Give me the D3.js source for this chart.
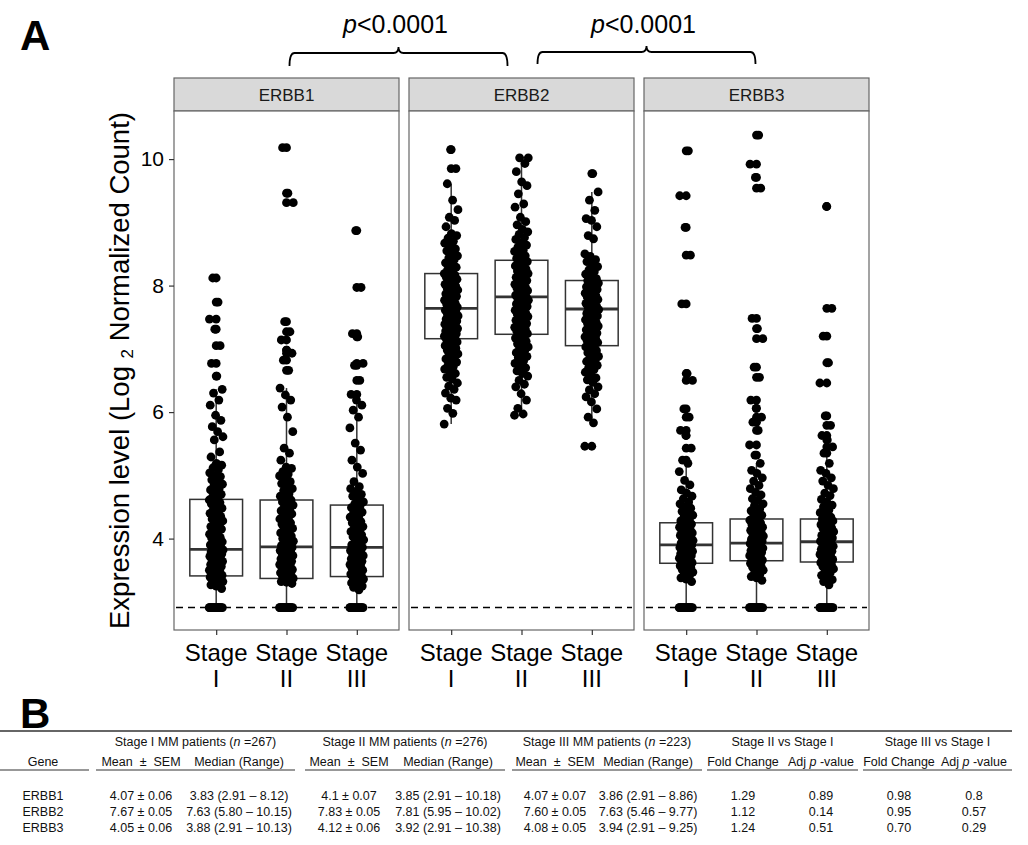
<!DOCTYPE html>
<html>
<head>
<meta charset="utf-8">
<script src="https://cdn.jsdelivr.net/npm/d3@7"></script>
<style>
  body { margin: 0; background: #fff; }
  text { font-family: "Liberation Sans", Arial, Helvetica, sans-serif; }
</style>
</head>
<body>
<svg id="fig" width="1028" height="845"></svg>
<script>
// ---- panel A data ----
const genes = ["ERBB1", "ERBB2", "ERBB3"];
const stages = ["Stage I", "Stage II", "Stage III"];
const yTicks = [4, 6, 8, 10];
const detectionFloor = 2.91;
const comparisonLabel = "<0.0001";

const erbb1StageI = [2.91,2.91,2.91,2.91,2.91,2.91,2.91,2.91,2.91,2.91,2.91,2.91,2.91,2.91,2.91,2.91,
  3.21,3.25,3.27,3.28,3.31,3.32,3.33,3.35,3.36,3.38,3.39,3.40,3.41,
  3.42,3.43,3.46,3.47,3.49,3.50,3.53,3.55,3.56,3.57,3.59,3.61,3.62,3.64,3.66,3.67,3.68,3.71,3.72,3.73,3.75,3.76,3.77,3.79,3.80,3.81,3.82,3.83,3.84,3.86,
  3.87,3.90,3.92,3.94,3.95,3.98,4.01,4.02,4.05,4.07,4.10,4.12,4.15,4.17,4.19,4.22,4.24,4.28,4.30,4.31,4.35,4.38,4.40,4.44,4.46,4.48,4.52,4.55,4.57,4.60,4.61,4.63,
  4.66,4.70,4.72,4.77,4.79,4.83,4.86,4.90,4.93,4.98,5.00,5.04,5.09,5.12,5.16,5.19,
  5.29,5.37,5.56,5.61,5.69,5.77,5.87,5.95,6.11,6.19,6.30,6.36,6.57,6.77,7.05,7.31,7.47,7.74,8.12];
const erbb1StageII = [2.91,2.91,2.91,2.91,2.91,2.91,2.91,2.91,2.91,2.91,2.91,2.91,2.91,2.91,2.91,2.91,
  3.29,3.31,3.32,3.34,3.35,3.37,
  3.39,3.40,3.42,3.44,3.46,3.47,3.49,3.51,3.52,3.55,3.56,3.58,3.59,3.62,3.63,3.64,3.67,3.68,3.69,3.72,3.73,3.75,3.76,3.78,3.80,3.81,3.83,3.85,3.86,3.87,
  3.89,3.92,3.94,3.96,3.99,4.00,4.04,4.06,4.09,4.12,4.14,4.16,4.19,4.23,4.25,4.27,4.31,4.33,4.36,4.39,4.41,4.44,4.48,4.50,4.53,4.55,4.58,4.61,
  4.64,4.67,4.71,4.76,4.79,4.82,4.87,4.90,4.94,4.99,5.02,5.06,5.11,
  5.13,5.24,5.35,5.43,5.69,5.92,6.08,6.19,6.27,6.38,6.66,6.82,6.93,6.98,7.14,7.27,7.43,9.31,9.46,10.18];
const erbb1StageIII = [2.91,2.91,2.91,2.91,2.91,2.91,2.91,2.91,2.91,2.91,2.91,2.91,2.91,2.91,
  3.19,3.23,3.25,3.27,3.30,3.31,3.34,3.36,3.37,3.40,
  3.41,3.43,3.44,3.46,3.48,3.50,3.51,3.53,3.56,3.57,3.59,3.60,3.63,3.64,3.66,3.68,3.69,3.71,3.73,3.74,3.76,3.77,3.79,3.81,3.82,3.84,3.86,
  3.88,3.90,3.93,3.95,3.98,4.00,4.03,4.06,4.08,4.11,4.13,4.16,4.19,4.21,4.25,4.27,4.30,4.34,4.36,4.40,4.42,4.46,4.49,4.52,
  4.55,4.58,4.62,4.67,4.70,4.74,4.79,4.82,
  4.90,5.03,5.13,5.24,5.40,5.51,5.75,5.92,6.03,6.11,6.19,6.28,6.50,6.74,6.77,7.19,7.24,7.97,8.87];

const erbb2StageI = [5.81,5.98,6.06,6.19,6.22,6.30,6.36,6.41,6.46,6.52,6.55,6.61,6.64,6.68,
  6.72,6.74,6.79,6.82,6.84,6.88,6.91,6.92,6.96,6.98,7.01,7.02,7.05,7.08,7.09,7.11,7.13,7.15,
  7.17,7.18,7.20,7.22,7.23,7.24,7.26,7.28,7.29,7.31,7.32,7.33,7.35,7.37,7.38,7.39,7.41,7.43,7.44,7.45,7.47,7.49,7.50,7.52,7.53,7.55,7.57,7.59,7.61,7.63,
  7.65,7.66,7.69,7.71,7.72,7.75,7.77,7.78,7.81,7.83,7.84,7.87,7.89,7.90,7.93,7.95,7.96,7.99,8.01,8.02,8.05,8.07,8.10,8.11,8.13,8.16,8.17,8.19,
  8.22,8.25,8.29,8.34,8.36,8.41,8.44,8.47,8.52,8.55,8.58,8.63,8.67,8.70,8.75,8.79,
  8.82,8.93,9.03,9.08,9.20,9.35,9.61,9.85,10.15];
const erbb2StageII = [5.95,5.97,6.06,6.19,6.29,6.40,6.44,6.50,6.57,6.61,6.65,6.70,
  6.74,6.77,6.81,6.86,6.88,6.90,6.94,6.98,7.00,7.03,7.05,7.08,7.12,7.14,7.17,7.19,7.22,
  7.24,7.27,7.28,7.31,7.33,7.34,7.37,7.39,7.40,7.43,7.45,7.46,7.49,7.51,7.52,7.55,7.56,7.59,7.61,7.62,7.65,7.67,7.68,7.71,7.73,7.74,7.77,7.79,7.80,7.82,
  7.84,7.85,7.88,7.89,7.92,7.93,7.96,7.97,8.00,8.02,8.04,8.06,8.08,8.10,8.13,8.14,8.17,8.19,8.21,8.23,8.26,8.28,8.31,8.33,8.35,8.38,8.40,
  8.43,8.47,8.50,8.54,8.56,8.61,8.64,8.68,8.73,8.76,8.81,8.85,8.89,8.96,9.01,9.08,
  9.24,9.29,9.45,9.58,9.64,9.80,9.93,10.02,10.02];
const erbb2StageIII = [5.46,5.83,5.92,6.05,6.16,6.24,6.29,6.35,6.40,6.47,6.51,6.54,6.60,6.63,6.67,
  6.70,6.74,6.76,6.80,6.82,6.86,6.88,6.92,6.94,6.97,7.01,7.03,
  7.06,7.07,7.10,7.12,7.13,7.16,7.18,7.19,7.22,7.24,7.25,7.28,7.30,7.31,7.34,7.36,7.37,7.40,7.42,7.43,7.46,7.48,7.50,7.52,7.54,7.56,7.58,7.60,7.62,
  7.64,7.66,7.67,7.70,7.72,7.73,7.76,7.78,7.79,7.82,7.84,7.85,7.88,7.90,7.91,7.94,7.96,7.98,8.00,8.02,8.04,8.06,8.08,
  8.11,8.15,8.18,8.22,8.25,8.30,8.33,8.38,8.41,8.46,8.50,
  8.74,8.79,8.93,9.03,9.06,9.19,9.35,9.48,9.77];

const erbb3StageI = [2.91,2.91,2.91,2.91,2.91,2.91,2.91,2.91,2.91,2.91,2.91,2.91,2.91,2.91,2.91,2.91,
  3.32,3.36,3.38,3.42,3.44,3.47,3.49,3.51,3.54,3.55,3.57,3.59,3.60,
  3.62,3.63,3.65,3.66,3.67,3.69,3.70,3.72,3.73,3.74,3.76,3.77,3.78,3.80,3.81,3.82,3.84,3.85,3.86,3.87,3.89,3.90,
  3.91,3.93,3.94,3.96,3.97,3.99,4.00,4.02,4.03,4.05,4.06,4.08,4.09,4.11,4.13,4.14,4.16,4.18,4.20,4.21,4.23,4.25,
  4.28,4.31,4.35,4.37,4.41,4.43,4.48,4.50,4.55,4.58,4.63,4.67,4.72,
  4.77,4.85,4.92,5.06,5.19,5.24,5.43,5.63,5.71,5.92,6.05,6.50,6.61,7.71,8.48,8.92,9.42,10.13];
const erbb3StageII = [2.91,2.91,2.91,2.91,2.91,2.91,2.91,2.91,2.91,2.91,2.91,2.91,2.91,2.91,2.91,2.91,
  3.34,3.38,3.40,3.44,3.46,3.50,3.51,3.55,3.56,3.58,3.61,3.62,3.64,
  3.66,3.67,3.69,3.71,3.72,3.73,3.75,3.77,3.78,3.79,3.81,3.82,3.84,3.85,3.87,3.88,3.89,3.91,3.92,3.93,
  3.94,3.96,3.98,3.99,4.01,4.03,4.04,4.06,4.08,4.09,4.11,4.13,4.15,4.16,4.18,4.21,4.22,4.25,4.26,4.29,4.31,
  4.33,4.37,4.40,4.44,4.47,4.52,4.55,4.60,4.63,4.69,4.73,4.79,4.84,4.91,4.96,5.03,
  5.08,5.19,5.32,5.48,5.71,5.84,5.92,6.06,6.19,6.55,6.71,7.16,7.32,7.48,9.54,9.71,9.92,10.38];
const erbb3StageIII = [2.91,2.91,2.91,2.91,2.91,2.91,2.91,2.91,2.91,2.91,2.91,2.91,2.91,2.91,
  3.27,3.32,3.35,3.40,3.42,3.46,3.48,3.52,3.53,3.56,3.59,3.60,3.62,
  3.64,3.65,3.67,3.69,3.70,3.72,3.73,3.75,3.77,3.78,3.80,3.81,3.83,3.85,3.86,3.88,3.90,3.91,3.93,3.95,
  3.96,3.98,4.00,4.01,4.04,4.05,4.07,4.10,4.11,4.13,4.16,4.17,4.19,4.22,4.23,4.26,4.28,4.29,4.31,
  4.34,4.38,4.41,4.45,4.50,4.53,4.58,4.62,4.68,4.72,4.79,4.84,4.91,4.96,5.03,
  5.08,5.19,5.35,5.45,5.56,5.63,5.79,5.94,6.46,6.78,7.20,7.64,9.25];

// box stats: [lower whisker, Q1, median, Q3, upper whisker]
const erbb1Boxes = [[2.91, 3.41, 3.83, 4.62, 6.36], [2.91, 3.37, 3.87, 4.61, 6.38], [2.91, 3.40, 3.86, 4.53, 6.19]];
const erbb2Boxes = [[5.81, 7.16, 7.64, 8.19, 9.61], [5.95, 7.23, 7.82, 8.40, 10.02], [5.83, 7.05, 7.63, 8.08, 9.48]];
const erbb3Boxes = [[2.91, 3.61, 3.90, 4.25, 5.19], [2.91, 3.65, 3.93, 4.31, 5.19], [2.91, 3.63, 3.95, 4.31, 5.30]];

// ---- panel B data ----
const tableGenes = ["ERBB1", "ERBB2", "ERBB3"];
const patientCounts = [267, 276, 223];
const meanSemI = ["4.07 ± 0.06", "7.67 ± 0.05", "4.05 ± 0.06"];
const medianRangeI = ["3.83 (2.91 – 8.12)", "7.63 (5.80 – 10.15)", "3.88 (2.91 – 10.13)"];
const meanSemII = ["4.1 ± 0.07", "7.83 ± 0.05", "4.12 ± 0.06"];
const medianRangeII = ["3.85 (2.91 – 10.18)", "7.81 (5.95 – 10.02)", "3.92 (2.91 – 10.38)"];
const meanSemIII = ["4.07 ± 0.07", "7.60 ± 0.05", "4.08 ± 0.05"];
const medianRangeIII = ["3.86 (2.91 – 8.86)", "7.63 (5.46 – 9.77)", "3.94 (2.91 – 9.25)"];
const foldIIvsI = ["1.29", "1.12", "1.24"];
const adjPIIvsI = ["0.89", "0.14", "0.51"];
const foldIIIvsI = ["0.98", "0.95", "0.70"];
const adjPIIIvsI = ["0.8", "0.57", "0.29"];

const geneValues = [
  [erbb1StageI, erbb1StageII, erbb1StageIII],
  [erbb2StageI, erbb2StageII, erbb2StageIII],
  [erbb3StageI, erbb3StageII, erbb3StageIII]
];
const geneBoxes = [erbb1Boxes, erbb2Boxes, erbb3Boxes];

const svg = d3.select("#fig");
const frame = "#666";

const y = d3.scaleLinear().domain([2.555, 10.76]).range([630, 111]);
const panelX = d3.scaleBand().domain(genes).range([174, 869]).paddingInner(10 / 235);
const stageX = d3.scalePoint().domain(stages).range([0, panelX.bandwidth()]).padding(0.6);
const w = panelX.bandwidth();
const boxW = stageX.step() * 0.75;
const jitter = 7;
const dotR = 4.4;

// panel letters
svg.append("text").attr("x", 20).attr("y", 50).attr("font-size", 42).attr("font-weight", "bold").text("A");
svg.append("text").attr("x", 20).attr("y", 728).attr("font-size", 42).attr("font-weight", "bold").text("B");

genes.forEach((gene, gi) => {
  const g = svg.append("g").attr("transform", `translate(${panelX(gene)},0)`);

  // strip
  g.append("rect").attr("x", 0).attr("y", 78).attr("width", w).attr("height", 33)
    .attr("fill", "#d9d9d9").attr("stroke", frame).attr("stroke-width", 1.2);
  g.append("text").attr("x", w / 2).attr("y", 101).attr("text-anchor", "middle")
    .attr("font-size", 17).attr("fill", "#1a1a1a").text(gene);

  g.append("rect").attr("x", 0).attr("y", 111).attr("width", w).attr("height", 630 - 111)
    .attr("fill", "#fff").attr("stroke", frame).attr("stroke-width", 1.2);

  g.append("line").attr("x1", 2).attr("x2", w - 2)
    .attr("y1", y(detectionFloor)).attr("y2", y(detectionFloor))
    .attr("stroke", "#000").attr("stroke-width", 1.6).attr("stroke-dasharray", "7,5");

  stages.forEach((st, si) => {
    const cx = stageX(st);
    const [lo, q1, med, q3, hi] = geneBoxes[gi][si];
    const bg = g.append("g");
    bg.append("line").attr("x1", cx).attr("x2", cx).attr("y1", y(lo)).attr("y2", y(q1))
      .attr("stroke", "#333").attr("stroke-width", 1.5);
    bg.append("line").attr("x1", cx).attr("x2", cx).attr("y1", y(q3)).attr("y2", y(hi))
      .attr("stroke", "#333").attr("stroke-width", 1.5);
    bg.append("rect").attr("x", cx - boxW / 2).attr("width", boxW)
      .attr("y", y(q3)).attr("height", y(q1) - y(q3))
      .attr("fill", "#fff").attr("stroke", "#333").attr("stroke-width", 1.5);
    bg.append("line").attr("x1", cx - boxW / 2).attr("x2", cx + boxW / 2)
      .attr("y1", y(med)).attr("y2", y(med)).attr("stroke", "#333").attr("stroke-width", 2.8);

    const vals = geneValues[gi][si].slice().sort(d3.ascending);
    // boxplot outliers at the box centre
    bg.selectAll("circle.out").data(vals.filter(v => v < lo || v > hi)).join("circle")
      .attr("class", "out").attr("cx", cx).attr("cy", d => y(d)).attr("r", dotR).attr("fill", "#000");
    // jittered points (deterministic spread)
    bg.selectAll("circle.pt").data(vals).join("circle")
      .attr("class", "pt")
      .attr("cx", (d, k) => cx + (((k * 0.6180339887) % 1) - 0.5) * 2 * jitter)
      .attr("cy", d => y(d)).attr("r", dotR)
      .attr("fill", "#000");
  });

  const ax = g.append("g").attr("transform", "translate(0,630)")
    .call(d3.axisBottom(stageX).tickSize(5).tickFormat(""));
  ax.select(".domain").remove();
  ax.selectAll(".tick line").attr("stroke", "#333").attr("stroke-width", 1.2);
  stages.forEach(st => {
    const parts = st.split(" ");
    const t = g.append("text").attr("text-anchor", "middle").attr("font-size", 24).attr("fill", "#000");
    t.append("tspan").attr("x", stageX(st)).attr("y", 661).text(parts[0]);
    t.append("tspan").attr("x", stageX(st)).attr("y", 687).text(parts[1]);
  });
});

// y axis
const yAx = svg.append("g").attr("transform", `translate(${panelX("ERBB1")},0)`)
  .call(d3.axisLeft(y).tickValues(yTicks).tickSize(5).tickPadding(5));
yAx.select(".domain").remove();
yAx.selectAll(".tick line").attr("stroke", "#333").attr("stroke-width", 1.2);
yAx.selectAll(".tick text").attr("font-size", 21).attr("fill", "#000")
  .attr("font-family", "Liberation Sans, Arial, sans-serif");

const yt = svg.append("text").attr("transform", `translate(129,${(111 + 630) / 2}) rotate(-90)`)
  .attr("text-anchor", "middle").attr("font-size", 27.5).attr("fill", "#000");
yt.append("tspan").text("Expression level (Log ");
yt.append("tspan").attr("font-size", 17).attr("dy", 4).text("2");
yt.append("tspan").attr("dy", -4).text(" Normalized Count)");

// comparison braces
const braces = [
  [panelX("ERBB1") + w / 2 + 3, panelX("ERBB2") + w / 2 - 14, 53, 66],
  [panelX("ERBB2") + w / 2 + 16, panelX("ERBB3") + w / 2 - 1, 52, 64]
];
braces.forEach(([x0, x1, yh, yb]) => {
  const xc = (x0 + x1) / 2, r = 5;
  svg.append("path")
    .attr("d", `M${x0},${yb} Q${x0},${yh} ${x0 + r},${yh} H${xc - r} Q${xc},${yh} ${xc},${yh - 6} Q${xc},${yh} ${xc + r},${yh} H${x1 - r} Q${x1},${yh} ${x1},${yb}`)
    .attr("fill", "none").attr("stroke", "#000").attr("stroke-width", 1.8);
  const t = svg.append("text").attr("x", xc - 3).attr("y", 33).attr("text-anchor", "middle").attr("font-size", 25);
  t.append("tspan").attr("font-style", "italic").text("p");
  t.append("tspan").text(comparisonLabel);
});

// ---- panel B table ----
const tb = svg.append("g").attr("font-size", 12.5).attr("fill", "#111");
tb.append("line").attr("x1", 0).attr("x2", 1012).attr("y1", 731).attr("y2", 731)
  .attr("stroke", "#333").attr("stroke-width", 1.3);

const groups = [
  { x0: 96, x1: 295, n: patientCounts[0], label: "Stage I MM patients (" },
  { x0: 305, x1: 505, n: patientCounts[1], label: "Stage II MM patients (" },
  { x0: 512, x1: 702, n: patientCounts[2], label: "Stage III MM patients (" }
];
groups.forEach(gr => {
  const t = tb.append("text").attr("x", (gr.x0 + gr.x1) / 2).attr("y", 746).attr("text-anchor", "middle");
  t.append("tspan").text(gr.label);
  t.append("tspan").attr("font-style", "italic").text("n");
  t.append("tspan").text(" =" + gr.n + ")");
});
[{ x0: 707, x1: 858, label: "Stage II vs Stage I" }, { x0: 863, x1: 1012, label: "Stage III vs Stage I" }]
  .forEach(gr => {
    tb.append("text").attr("x", (gr.x0 + gr.x1) / 2).attr("y", 746).attr("text-anchor", "middle").text(gr.label);
  });
[[0, 89], [96, 295], [305, 505], [512, 702], [707, 858], [863, 1012]].forEach(([a, b]) => {
  tb.append("line").attr("x1", a).attr("x2", b).attr("y1", 770).attr("y2", 770)
    .attr("stroke", "#333").attr("stroke-width", 1.1);
});

const colX = [43, 141, 239, 349, 448, 555, 648, 743, 821, 899, 974];
const subHeads = ["Gene", "Mean ± SEM", "Median (Range)", "Mean ± SEM", "Median (Range)",
  "Mean ± SEM", "Median (Range)", "Fold Change", null, "Fold Change", null];
subHeads.forEach((h, i) => {
  if (h) {
    tb.append("text").attr("x", colX[i]).attr("y", 766).attr("text-anchor", "middle")
      .style("white-space", "pre").text(h.replace(" ± ", "  ±  "));
  } else {
    const t = tb.append("text").attr("x", colX[i]).attr("y", 766).attr("text-anchor", "middle");
    t.append("tspan").text("Adj ");
    t.append("tspan").attr("font-style", "italic").text("p");
    t.append("tspan").text(" -value");
  }
});

const columns = [tableGenes, meanSemI, medianRangeI, meanSemII, medianRangeII,
  meanSemIII, medianRangeIII, foldIIvsI, adjPIIvsI, foldIIIvsI, adjPIIIvsI];
tableGenes.forEach((gn, r) => {
  columns.forEach((col, c) => {
    tb.append("text").attr("x", colX[c]).attr("y", 800 + r * 16).attr("text-anchor", "middle").text(col[r]);
  });
});
</script>
</body>
</html>
